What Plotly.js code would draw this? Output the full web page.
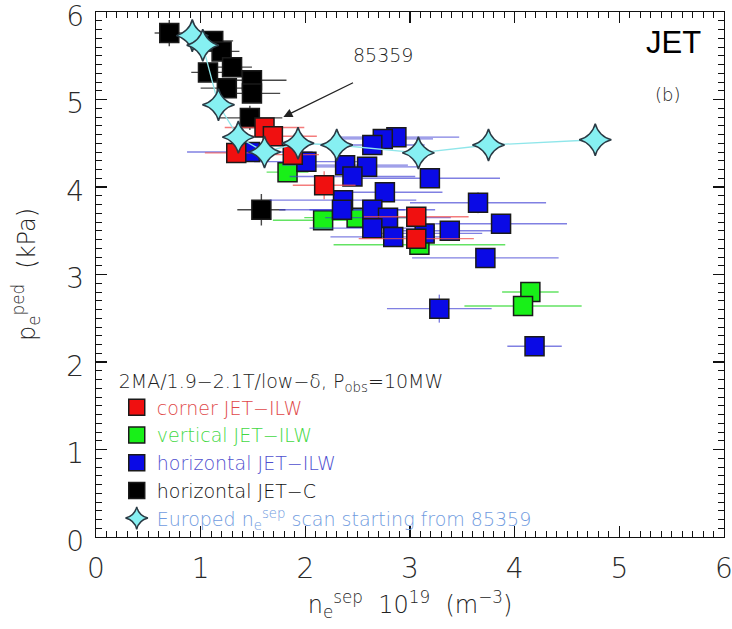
<!DOCTYPE html>
<html>
<head>
<meta charset="utf-8">
<script src="https://cdn.plot.ly/plotly-3.0.1.min.js"></script>
<style>html,body{margin:0;padding:0;background:#fff;}#chart{width:732px;height:629px;}</style>
</head>
<body>
<div id="chart"></div>
<script>
// ---- data ----
const cornerX    = [1.61, 1.69, 1.34, 1.88, 2.18, 3.06, 3.06];
const cornerY    = [4.68, 4.58, 4.39, 4.37, 4.02, 3.66, 3.41];
const cornerXerr = [0.38, 0.42, 0.30, 0.25, 0.30, 0.50, 0.55];
const cornerYerr = [0.06, 0.06, 0.06, 0.06, 0.16, 0.06, 0.06];

const verticalX    = [1.83, 2.17, 2.49, 3.09, 4.15, 4.08];
const verticalY    = [4.17, 3.62, 3.65, 3.34, 2.80, 2.64];
const verticalXerr = [0.20, 0.48, 0.50, 0.82, 0.27, 0.56];
const verticalYerr = [0.08, 0.06, 0.06, 0.10, 0.05, 0.05];

const horizX    = [1.47, 2.01, 2.87, 2.74, 2.64, 2.38, 2.59, 2.45, 3.19, 2.76, 2.36, 2.35, 2.64, 2.79, 2.64, 2.84, 3.14, 3.38, 3.65, 3.87, 3.72, 3.28, 4.19];
const horizY    = [4.40, 4.29, 4.57, 4.55, 4.48, 4.25, 4.23, 4.12, 4.10, 3.94, 3.85, 3.74, 3.74, 3.65, 3.53, 3.43, 3.47, 3.50, 3.82, 3.58, 3.19, 2.61, 2.18];
const horizXerr = [0.60, 0.50, 0.60, 0.48, 0.50, 0.60, 0.50, 0.60, 0.67, 0.55, 0.70, 0.60, 0.60, 0.60, 0.60, 0.60, 0.55, 0.50, 0.65, 0.63, 0.70, 0.50, 0.26];
const horizYerr = [0.06, 0.06, 0.10, 0.06, 0.06, 0.06, 0.06, 0.06, 0.06, 0.06, 0.06, 0.06, 0.06, 0.06, 0.06, 0.06, 0.06, 0.06, 0.12, 0.10, 0.10, 0.16, 0.06];

const jetcX    = [0.70, 1.12, 1.20, 1.07, 1.30, 1.25, 1.49, 1.49, 1.47, 1.58];
const jetcY    = [5.76, 5.67, 5.55, 5.31, 5.37, 5.13, 5.22, 5.07, 4.79, 3.74];
const jetcXerr = [0.14, 0.19, 0.17, 0.16, 0.19, 0.25, 0.33, 0.27, 0.31, 0.23];
const jetcYerr = [0.15, 0.06, 0.06, 0.06, 0.06, 0.06, 0.06, 0.06, 0.14, 0.18];

const europedX = [0.92, 1.02, 1.17, 1.36, 1.61, 1.93, 2.30, 3.08, 3.75, 4.77];
const europedY = [5.73, 5.62, 4.94, 4.57, 4.40, 4.50, 4.48, 4.39, 4.48, 4.54];

const xTickVals = [0, 1, 2, 3, 4, 5, 6];
const yTickVals = [0, 1, 2, 3, 4, 5, 6];

const legendHeader = "2MA/1.9\u22122.1T/low\u2212\u03b4, P<sub>obs</sub>=10MW";
const names = {
  corner: '<span style="color:#e04848">corner JET\u2212ILW</span>',
  vertical: '<span style="color:#44d844">vertical JET\u2212ILW</span>',
  horiz: '<span style="color:#4f4fcf">horizontal JET\u2212ILW</span>',
  jetc: '<span style="color:#111111">horizontal JET\u2212C</span>',
  europed: '<span style="color:#6f9be0">Europed n<sub>e</sub><sup>sep</sup> scan starting from 85359</span>'
};

function sq(x, y, xe, ye, fill, ecol, name, rank) {
  return {
    type: 'scatter', mode: 'markers', x: x, y: y, name: name, legendrank: rank,
    marker: {symbol: 'square', size: 19, color: fill, line: {color: '#1a1a1a', width: 1.5}},
    error_x: {type: 'data', array: xe, color: ecol, thickness: 1.4, width: 0},
    error_y: {type: 'data', array: ye, color: ecol, thickness: 1.4, width: 0},
    hoverinfo: 'x+y'
  };
}

const traces = [
  sq(jetcX, jetcY, jetcXerr, jetcYerr, '#000000', 'rgba(40,40,40,0.85)', names.jetc, 4),
  sq(verticalX, verticalY, verticalXerr, verticalYerr, '#18f018', 'rgba(60,220,60,0.8)', names.vertical, 2),
  sq(horizX, horizY, horizXerr, horizYerr, '#0a0ae6', 'rgba(60,60,210,0.65)', names.horiz, 3),
  sq(cornerX, cornerY, cornerXerr, cornerYerr, '#f01010', 'rgba(240,80,80,0.75)', names.corner, 1),
  {type: 'scatter', mode: 'lines', x: europedX, y: europedY, showlegend: false,
   line: {color: '#8fe6ea', width: 1.3}, hoverinfo: 'skip'},
  {type: 'scatter', mode: 'markers', x: europedX, y: europedY, name: names.europed, legendrank: 5,
   marker: {symbol: 'star-diamond', size: 23, color: '#86f0f2', line: {color: '#2a3a44', width: 1.5}}}
];

const axisCommon = {
  range: [0, 6], showgrid: false, zeroline: false, showline: true, linecolor: '#111', linewidth: 1.3,
  mirror: 'ticks', ticks: 'inside', ticklen: 11, tickwidth: 1.3, tickcolor: '#111',
  tickmode: 'array', ticklabeloverflow: 'allow',
  minor: {dtick: 0.1, ticks: 'inside', ticklen: 6, tickwidth: 1, tickcolor: '#111', showgrid: false},
  tickfont: {family: 'DejaVu Sans', size: 28, color: '#2a2a2a', weight: 200}
};

const layout = {
  width: 732, height: 629,
  margin: {l: 96, r: 8, t: 12, b: 92},
  paper_bgcolor: '#fff', plot_bgcolor: '#fff',
  font: {family: 'DejaVu Sans', color: '#222'},
  xaxis: Object.assign({}, axisCommon, {
    tickvals: xTickVals, ticktext: xTickVals.map(String), ticklabelstandoff: 6,
    title: {text: 'n<sub>e</sub><sup>sep</sup>  10<sup>19</sup>  (m<sup>\u22123</sup>)', font: {family: 'DejaVu Sans', size: 24, color: '#222', weight: 200}, standoff: 12}
  }),
  yaxis: Object.assign({}, axisCommon, {
    tickvals: yTickVals, ticktext: yTickVals.map(String), ticklabelstandoff: 5, ticklabelshift: 4,
    title: {text: 'p<sub>e</sub><sup>ped</sup>  (kPa)', font: {family: 'DejaVu Sans', size: 24, color: '#222', weight: 200}, standoff: 24}
  }),
  showlegend: true,
  legend: {
    x: 0.033, y: 0.33, xanchor: 'left', yanchor: 'top',
    bgcolor: 'rgba(0,0,0,0)', borderwidth: 0,
    font: {family: 'DejaVu Sans', size: 19, color: '#222', weight: 200},
    title: {text: legendHeader, font: {family: 'DejaVu Sans', size: 19, color: '#222', weight: 200}},
    tracegroupgap: 0, itemsizing: 'trace'
  },
  annotations: [
    {xref: 'paper', yref: 'paper', x: (673 - 96) / 628, y: (537 - 42) / 525, text: 'JET', showarrow: false,
     font: {family: 'Liberation Sans', size: 31, color: '#000'}, xanchor: 'center', yanchor: 'middle'},
    {xref: 'paper', yref: 'paper', x: (667 - 96) / 628, y: (537 - 95) / 525, text: '(b)', showarrow: false,
     font: {family: 'DejaVu Sans', size: 18, color: '#222', weight: 200}, xanchor: 'center', yanchor: 'middle'},
    {xref: 'x', yref: 'y', x: 2.74, y: 5.51, text: '85359', showarrow: false,
     font: {family: 'DejaVu Sans', size: 19, color: '#222', weight: 200}},
    {xref: 'x', yref: 'y', x: 1.79, y: 4.80, axref: 'x', ayref: 'y', ax: 2.47, ay: 5.20, text: '',
     showarrow: true, arrowhead: 2, arrowsize: 1.4, arrowwidth: 1.3, arrowcolor: '#222'}
  ]
};

Plotly.newPlot('chart', traces, layout, {displayModeBar: false, staticPlot: true});
</script>
</body>
</html>
